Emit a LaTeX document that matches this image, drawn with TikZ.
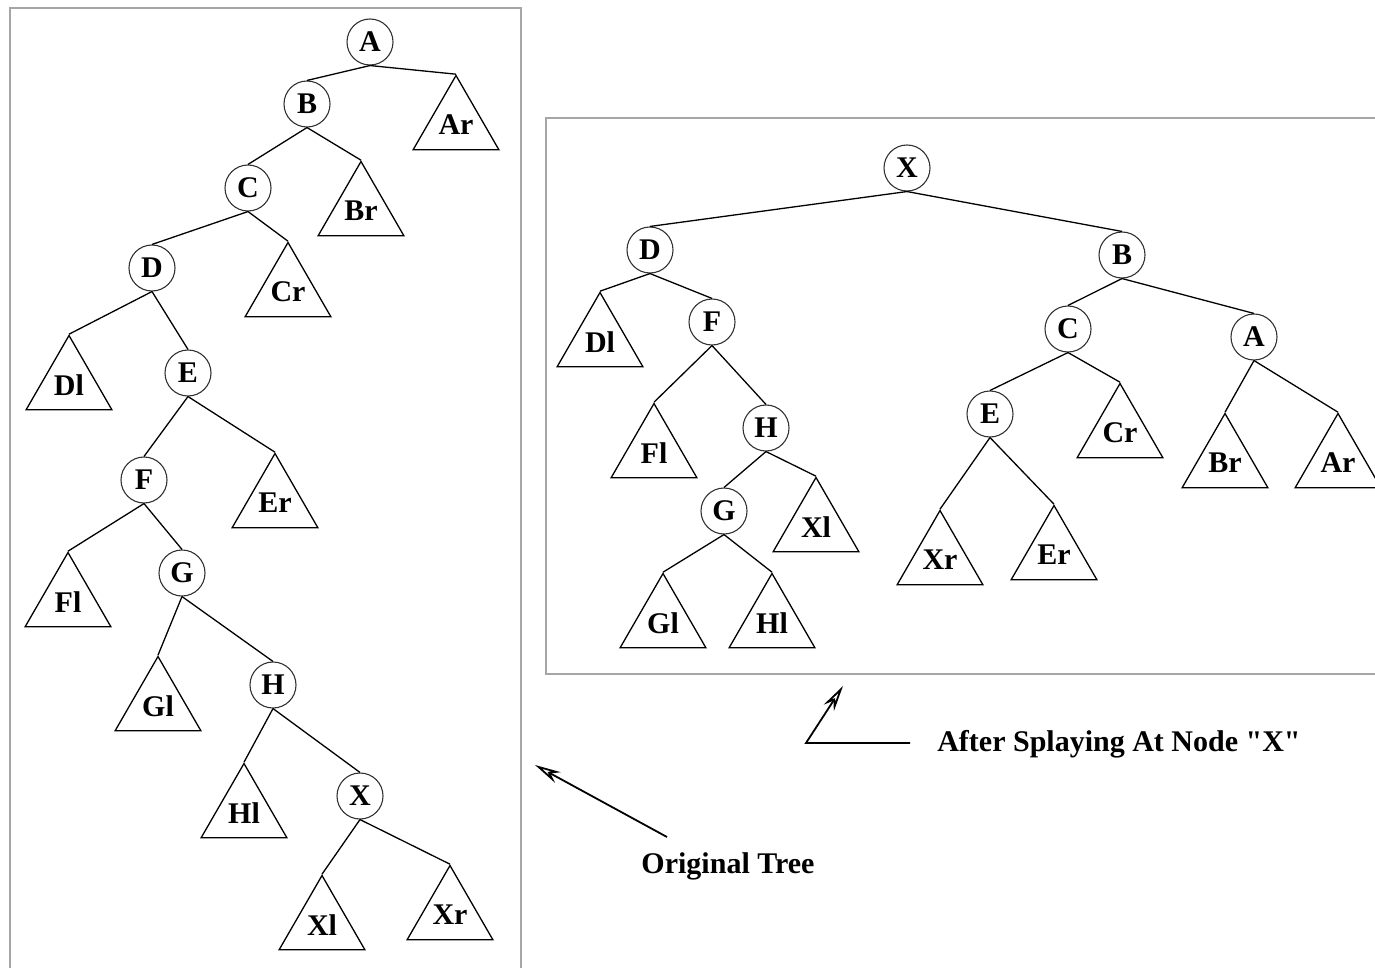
\documentclass[tikz,border=0pt]{standalone}
\usepackage{fontspec}
\setmainfont{Liberation Serif}
\usetikzlibrary{shapes.geometric,arrows.meta}

\begin{document}
\begin{tikzpicture}[x=0.5pt, y=-0.5pt, line width=0.65pt,
        knot/.style={circle, draw=black!80, line width=0.55pt, minimum size=23pt, inner sep=0pt},
        subtree/.style={regular polygon, regular polygon sides=3, draw, minimum size=49.5pt, inner sep=0pt},
        every node/.style={font=\bfseries\fontsize{15}{18}\selectfont},
        frame/.style={draw=gray!70, line width=1pt},
        splay arrow/.style={-{Stealth[open, length=13pt, width=6pt]}, line width=0.9pt}]

        \useasboundingbox (0,0) rectangle (1375,968);
        \clip (0,0) rectangle (1375,968);

        % 枠
        \draw[frame] (10,8) rectangle (521,990);
        \draw[frame] (546,118) rectangle (1400,674);

        % 元の木
        \node[knot] (a) at (370,42) {A};
        \node[knot] (b) at (307,104) {B};
        \node[knot] (c) at (248,188) {C};
        \node[knot] (d) at (152,268) {D};
        \node[knot] (e) at (188,373) {E};
        \node[knot] (f) at (144,480) {F};
        \node[knot] (g) at (182,573) {G};
        \node[knot] (h) at (273,685) {H};
        \node[knot] (x) at (360,796) {X};

        \node[subtree] (ar) at (456,125) {Ar};
        \node[subtree] (br) at (361,211) {Br};
        \node[subtree] (cr) at (288,292) {Cr};
        \node[subtree] (dl) at (69,385) {Dl};
        \node[subtree] (er) at (275,503) {Er};
        \node[subtree] (fl) at (68,602) {Fl};
        \node[subtree] (gl) at (158,706) {Gl};
        \node[subtree] (hl) at (244,813) {Hl};
        \node[subtree] (xl) at (322,925) {Xl};
        \node[subtree] (xr) at (450,915) {Xr};

        \draw (a.south) -- (b.north);   \draw (a.south) -- (ar.corner 1);
        \draw (b.south) -- (c.north);   \draw (b.south) -- (br.corner 1);
        \draw (c.south) -- (d.north);   \draw (c.south) -- (cr.corner 1);
        \draw (d.south) -- (dl.corner 1); \draw (d.south) -- (e.north);
        \draw (e.south) -- (f.north);   \draw (e.south) -- (er.corner 1);
        \draw (f.south) -- (fl.corner 1); \draw (f.south) -- (g.north);
        \draw (g.south) -- (gl.corner 1); \draw (g.south) -- (h.north);
        \draw (h.south) -- (hl.corner 1); \draw (h.south) -- (x.north);
        \draw (x.south) -- (xl.corner 1); \draw (x.south) -- (xr.corner 1);

        % スプレー後の木
        \node[knot] (sx) at (907,168) {X};
        \node[knot] (sd) at (650,250) {D};
        \node[knot] (sb) at (1122,255) {B};
        \node[knot] (sf) at (712,322) {F};
        \node[knot] (sc) at (1068,329) {C};
        \node[knot] (sa) at (1254,337) {A};
        \node[knot] (sh) at (766,428) {H};
        \node[knot] (se) at (990,414) {E};
        \node[knot] (sg) at (724,511) {G};

        \node[subtree] (sdl) at (600,342) {Dl};
        \node[subtree] (sfl) at (654,453) {Fl};
        \node[subtree] (sxl) at (816,527) {Xl};
        \node[subtree] (sgl) at (663,623) {Gl};
        \node[subtree] (shl) at (772,623) {Hl};
        \node[subtree] (scr) at (1120,433) {Cr};
        \node[subtree] (sxr) at (940,560) {Xr};
        \node[subtree] (ser) at (1054,555) {Er};
        \node[subtree] (sbr) at (1225,463) {Br};
        \node[subtree] (sar) at (1338,463) {Ar};

        \draw (sx.south) -- (sd.north);   \draw (sx.south) -- (sb.north);
        \draw (sd.south) -- (sdl.corner 1); \draw (sd.south) -- (sf.north);
        \draw (sf.south) -- (sfl.corner 1); \draw (sf.south) -- (sh.north);
        \draw (sh.south) -- (sg.north);   \draw (sh.south) -- (sxl.corner 1);
        \draw (sg.south) -- (sgl.corner 1); \draw (sg.south) -- (shl.corner 1);
        \draw (sb.south) -- (sc.north);   \draw (sb.south) -- (sa.north);
        \draw (sc.south) -- (se.north);   \draw (sc.south) -- (scr.corner 1);
        \draw (se.south) -- (sxr.corner 1); \draw (se.south) -- (ser.corner 1);
        \draw (sa.south) -- (sbr.corner 1); \draw (sa.south) -- (sar.corner 1);

        % ラベルと矢印
        \node (orglabel) at (728,866) {Original Tree};
        \coordinate (orgtail) at (667,837);
        \coordinate (orgtip) at (535,765);
        \draw[splay arrow] (orgtail) -- (orgtip);

        \node[anchor=west] (aftlabel) at (930,744) {After Splaying At Node \textquotedbl X\textquotedbl};
        \coordinate (afttail) at (910,743);
        \coordinate (aftcorner) at (806,743);
        \coordinate (afttip) at (843,686);
        \draw[splay arrow] (afttail) -- (aftcorner) -- (afttip);
    \end{tikzpicture}
\end{document}
